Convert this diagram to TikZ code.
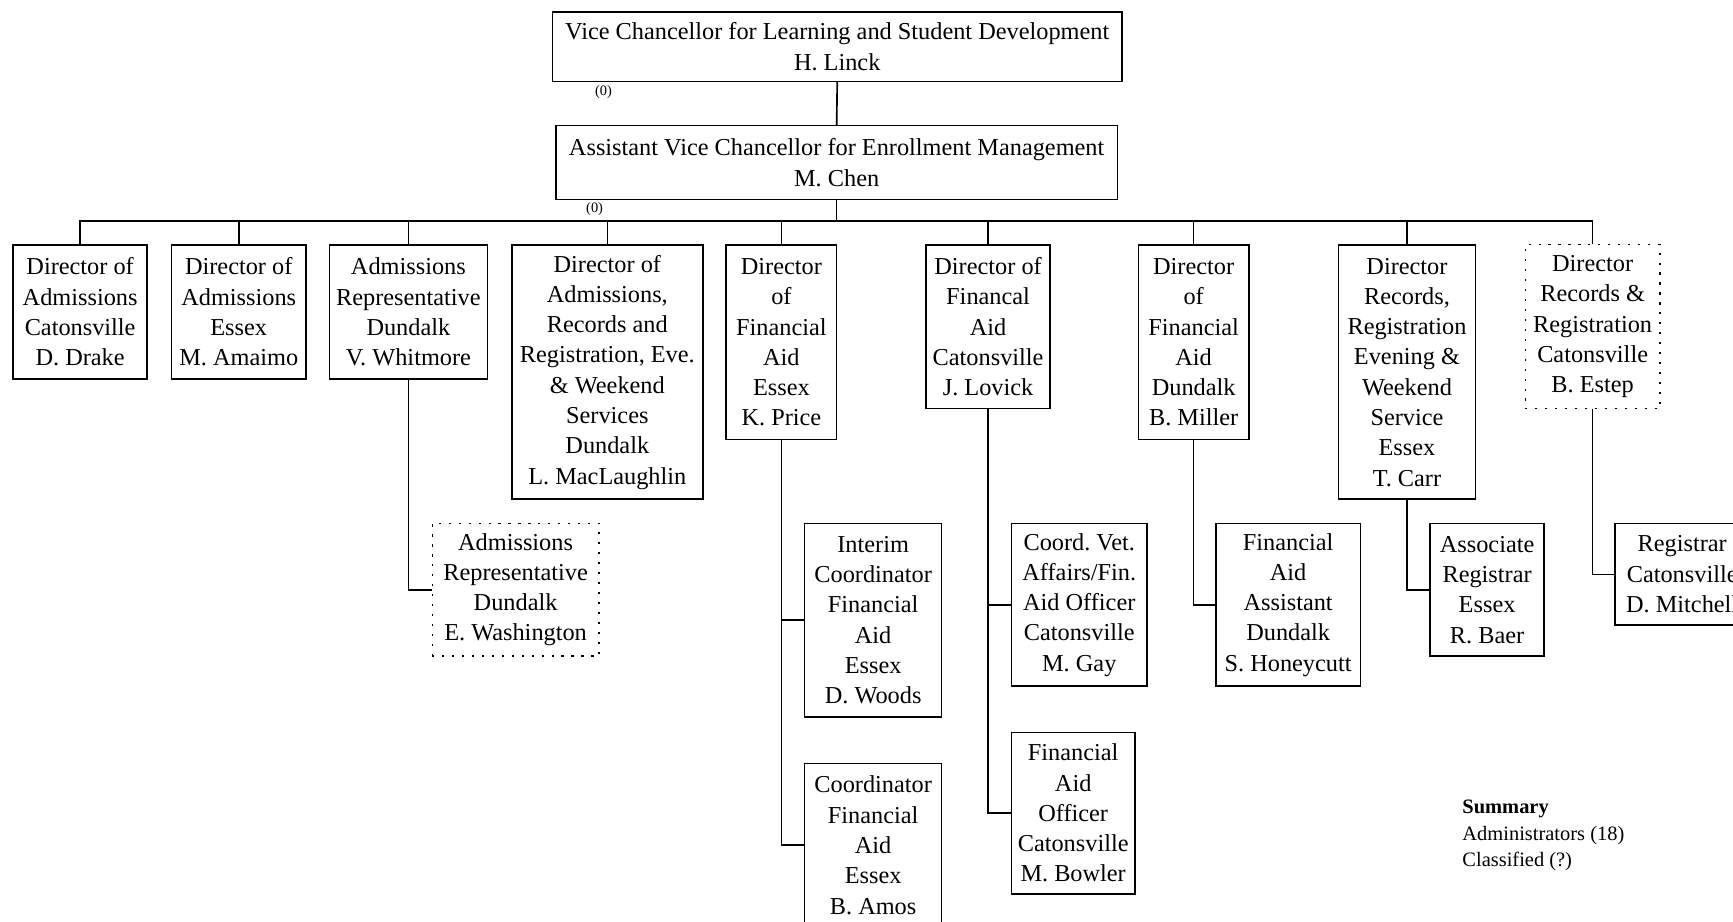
\documentclass[tikz,border=0pt]{standalone}
\usepackage{fontspec}
\setmainfont{Liberation Serif}
\frenchspacing
\begin{document}
\begin{tikzpicture}[x=1pt,y=-1pt]
\tikzset{
 box/.style={draw, line width=1.4pt, align=center, inner sep=0pt, font=\fontsize{22}{27.4}\selectfont, anchor=north},
 dbox/.style={box, line width=1.1pt, dash pattern=on 2pt off 7pt},
 conn/.style={line width=1.5pt},
 small/.style={font=\fontsize{13}{15}\selectfont, inner sep=0pt},
 summ/.style={font=\fontsize{18.5}{24}\selectfont, align=left, inner sep=0pt, anchor=west},
}
\useasboundingbox (0,0) rectangle (1568,834);
\clip (0,0) rectangle (1568,834);
% top
\node[box, minimum width=515pt, minimum height=63pt] (vc) at (757.5,10) {Vice Chancellor for Learning and Student Development\\H. Linck};
\node[box, minimum width=508pt, minimum height=67pt] (chen) at (757,113) {Assistant Vice Chancellor for Enrollment Management\\M. Chen};
\node[small] (z1) at (546,83) {(0)};
\node[small] (z2) at (538,189) {(0)};
\coordinate (bus) at (757,200);
% level 1
\node[box, minimum width=121pt, minimum height=121pt] (drake) at (72.5,221) {Director of\\Admissions\\Catonsville\\D. Drake};
\node[box, minimum width=122pt, minimum height=121pt] (amaimo) at (216,221) {Director of\\Admissions\\Essex\\M. Amaimo};
\node[box, minimum width=143pt, minimum height=121pt] (whit) at (369.5,221) {Admissions\\Representative\\Dundalk\\V. Whitmore};
\node[box, minimum width=173pt, minimum height=230pt] (macl) at (549.5,221) {Director of\\Admissions,\\Records and\\Registration, Eve.\\\& Weekend\\Services\\Dundalk\\L. MacLaughlin};
\node[box, minimum width=100pt, minimum height=176pt] (price) at (707,221) {Director\\of\\Financial\\Aid\\Essex\\K. Price};
\node[box, minimum width=112pt, minimum height=148pt] (lovick) at (894,221) {Director of\\Financal\\Aid\\Catonsville\\J. Lovick};
\node[box, minimum width=100pt, minimum height=176pt] (miller) at (1080,221) {Director\\of\\Financial\\Aid\\Dundalk\\B. Miller};
\node[box, minimum width=124pt, minimum height=230pt] (carr) at (1273,221) {Director\\Records,\\Registration\\Evening \&\\Weekend\\Service\\Essex\\T. Carr};
\node[dbox, minimum width=122pt, minimum height=148pt] (estep) at (1441,221) {Director\\Records \&\\Registration\\Catonsville\\B. Estep};
% level 2
\node[dbox, minimum width=151pt, minimum height=120pt] (wash) at (466.5,473) {Admissions\\Representative\\Dundalk\\E. Washington};
\node[box, minimum width=124pt, minimum height=175pt] (woods) at (790,473) {Interim\\Coordinator\\Financial\\Aid\\Essex\\D. Woods};
\node[box, minimum width=124pt, minimum height=148pt] (amos) at (790,690) {Coordinator\\Financial\\Aid\\Essex\\B. Amos};
\node[box, minimum width=123pt, minimum height=147pt] (gay) at (976.5,473) {Coord. Vet.\\Affairs/Fin.\\Aid Officer\\Catonsville\\M. Gay};
\node[box, minimum width=112pt, minimum height=146pt] (bowler) at (971,662) {Financial\\Aid\\Officer\\Catonsville\\M. Bowler};
\node[box, minimum width=131pt, minimum height=147pt] (honey) at (1165.5,473) {Financial\\Aid\\Assistant\\Dundalk\\S. Honeycutt};
\node[box, minimum width=103pt, minimum height=120pt] (baer) at (1345.5,473) {Associate\\Registrar\\Essex\\R. Baer};
\node[box, minimum width=122pt, minimum height=92pt] (mitch) at (1522,473) {Registrar\\Catonsville\\D. Mitchell};
% summary
\node[summ] (summary) at (1323,756) {\textbf{Summary}\\Administrators (18)\\Classified (?)};
% connectors
\draw[conn] (vc.south) -- (chen.north);
\foreach \c in {drake,amaimo,whit,macl,price,lovick,miller,carr,estep}
  \draw[conn] (chen.south) -- (bus) -| (\c.north);
\draw[conn] (whit.south) |- (wash.west);
\draw[conn] (price.south) |- (woods.west);
\draw[conn] (price.south) |- (amos.west);
\draw[conn] (lovick.south) |- (gay.west);
\draw[conn] (lovick.south) |- (bowler.west);
\draw[conn] (miller.south) |- (honey.west);
\draw[conn] (carr.south) |- (baer.west);
\draw[conn] (estep.south) |- (mitch.west);
\end{tikzpicture}
\end{document}
